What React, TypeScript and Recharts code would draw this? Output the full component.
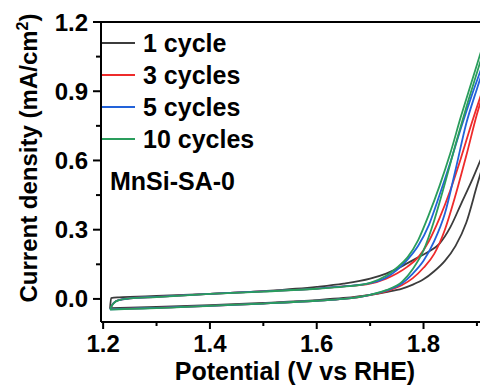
import { LineChart, Line, XAxis, YAxis, ReferenceLine, Label } from 'recharts';

const FONT = '"Liberation Sans", Arial, sans-serif';

// potential grids (V vs RHE) for the anodic (forward) and cathodic (reverse) sweeps
const POT_FWD = [1.213, 1.215, 1.22, 1.23, 1.25, 1.3, 1.4, 1.5, 1.6, 1.65, 1.7, 1.73, 1.75, 1.77, 1.79, 1.81, 1.83, 1.85, 1.87, 1.89, 1.91, 1.93];
const POT_REV = [1.213, 1.25, 1.3, 1.4, 1.5, 1.6, 1.65, 1.7, 1.73, 1.76, 1.78, 1.8, 1.82, 1.84, 1.86, 1.88, 1.9, 1.92, 1.94];

// current density (mA/cm2)
const CYCLE1_FWD = [-0.04, 0.004, 0.006, 0.007, 0.009, 0.013, 0.022, 0.034, 0.052, 0.066, 0.088, 0.11, 0.13, 0.155, 0.18, 0.205, 0.24, 0.31, 0.41, 0.51, 0.62, 0.73];
const CYCLE1_REV = [-0.04, -0.038, -0.035, -0.027, -0.017, -0.005, 0.004, 0.018, 0.03, 0.045, 0.062, 0.085, 0.12, 0.165, 0.23, 0.33, 0.49, 0.65, 0.8];
const CYCLE3_FWD = [-0.044, -0.034, -0.017, -0.005, 0.002, 0.009, 0.022, 0.033, 0.045, 0.054, 0.066, 0.088, 0.11, 0.14, 0.18, 0.25, 0.35, 0.47, 0.61, 0.76, 0.9, 1.03];
const CYCLE3_REV = [-0.044, -0.042, -0.039, -0.03, -0.02, -0.008, 0.0, 0.017, 0.033, 0.06, 0.09, 0.135, 0.195, 0.3, 0.45, 0.62, 0.8, 0.95, 1.09];
const CYCLE5_FWD = [-0.045, -0.034, -0.017, -0.005, 0.002, 0.009, 0.022, 0.033, 0.045, 0.054, 0.068, 0.093, 0.125, 0.17, 0.23, 0.32, 0.45, 0.59, 0.74, 0.88, 1.01, 1.14];
const CYCLE5_REV = [-0.045, -0.042, -0.039, -0.03, -0.02, -0.008, 0.0, 0.018, 0.036, 0.068, 0.11, 0.165, 0.25, 0.37, 0.56, 0.76, 0.91, 1.05, 1.19];
const CYCLE10_FWD = [-0.046, -0.035, -0.018, -0.005, 0.002, 0.008, 0.022, 0.032, 0.044, 0.053, 0.07, 0.1, 0.135, 0.18, 0.255, 0.365, 0.49, 0.63, 0.79, 0.94, 1.09, 1.24];
const CYCLE10_REV = [-0.046, -0.043, -0.04, -0.03, -0.02, -0.008, 0.0, 0.018, 0.038, 0.075, 0.13, 0.21, 0.34, 0.5, 0.67, 0.83, 0.98, 1.13, 1.28];

const SERIES = [
  { name: '1 cycle', color: '#3c3c3c', fwd: CYCLE1_FWD, rev: CYCLE1_REV },
  { name: '3 cycles', color: '#ee2b2b', fwd: CYCLE3_FWD, rev: CYCLE3_REV },
  { name: '5 cycles', color: '#2262d9', fwd: CYCLE5_FWD, rev: CYCLE5_REV },
  { name: '10 cycles', color: '#2a9d5c', fwd: CYCLE10_FWD, rev: CYCLE10_REV },
];

const X_TICKS = [1.2, 1.3, 1.4, 1.5, 1.6, 1.7, 1.8, 1.9];
const X_LABELED = [1.2, 1.4, 1.6, 1.8];
const Y_TICKS = [0, 0.15, 0.3, 0.45, 0.6, 0.75, 0.9, 1.05, 1.2];
const Y_LABELED = [0, 0.3, 0.6, 0.9, 1.2];

const toPoints = (pot: number[], cur: number[]) => pot.map((x, i) => ({ x, y: cur[i] }));

const XTick = ({ x, y, payload }: any) => {
  const major = X_LABELED.some((v) => Math.abs(v - payload.value) < 1e-6);
  return (
    <g>
      <line x1={x} x2={x} y1={y} y2={y + (major ? 7 : 4)} stroke="#000" strokeWidth={2} />
      {major && (
        <text x={x} y={y + 30} textAnchor="middle" fontFamily={FONT} fontWeight="bold" fontSize={24} fill="#000">
          {payload.value.toFixed(1)}
        </text>
      )}
    </g>
  );
};

const YTick = ({ x, y, payload }: any) => {
  const major = Y_LABELED.some((v) => Math.abs(v - payload.value) < 1e-6);
  return (
    <g>
      <line x1={x - (major ? 8 : 5)} x2={x} y1={y} y2={y} stroke="#000" strokeWidth={2} />
      {major && (
        <text x={x - 13} y={y + 8.5} textAnchor="end" fontFamily={FONT} fontWeight="bold" fontSize={24} fill="#000">
          {payload.value.toFixed(1)}
        </text>
      )}
    </g>
  );
};

const App = () => (
  <div style={{ position: 'absolute', left: 0, top: 0, width: 480, height: 392, overflow: 'hidden', background: '#fff' }}>
    <LineChart width={486} height={392} margin={{ top: 22, right: 0, bottom: 0, left: 0 }}>
      <XAxis
        type="number"
        dataKey="x"
        domain={[1.196, 1.917]}
        allowDataOverflow
        ticks={X_TICKS}
        tick={<XTick />}
        tickSize={0}
        tickMargin={0}
        interval={0}
        axisLine={{ stroke: '#000', strokeWidth: 2 }}
        height={70}
      >
        <Label
          content={() => (
            <text x={295} y={380} textAnchor="middle" fontFamily={FONT} fontWeight="bold" fontSize={25} fill="#000">
              Potential (V vs RHE)
            </text>
          )}
        />
      </XAxis>
      <YAxis
        type="number"
        dataKey="y"
        domain={[-0.1, 1.2]}
        allowDataOverflow
        ticks={Y_TICKS}
        tick={<YTick />}
        tickSize={0}
        tickMargin={0}
        interval={0}
        axisLine={{ stroke: '#000', strokeWidth: 2 }}
        width={101}
      >
        <Label
          content={() => (
            <text
              x={37}
              y={158}
              transform="rotate(-90, 37, 158)"
              textAnchor="middle"
              fontFamily={FONT}
              fontWeight="bold"
              fontSize={24}
              fill="#000"
            >
              Current density (mA/cm<tspan dy={-9} fontSize={16}>2</tspan>
              <tspan dy={9}>)</tspan>
            </text>
          )}
        />
      </YAxis>
      <ReferenceLine y={1.2} stroke="#000" strokeWidth={2} ifOverflow="visible" />
      {SERIES.flatMap((s) => [
        <Line
          key={s.name + '-fwd'}
          data={toPoints(POT_FWD, s.fwd)}
          dataKey="y"
          type="monotone"
          stroke={s.color}
          strokeWidth={1.8}
          dot={false}
          isAnimationActive={false}
        />,
        <Line
          key={s.name + '-rev'}
          data={toPoints(POT_REV, s.rev)}
          dataKey="y"
          type="monotone"
          stroke={s.color}
          strokeWidth={1.8}
          dot={false}
          isAnimationActive={false}
        />,
      ])}
    </LineChart>
    <div style={{ position: 'absolute', left: 102, top: 27, fontFamily: FONT, fontWeight: 'bold', color: '#000' }}>
      {SERIES.map((s) => (
        <div key={s.name} style={{ display: 'flex', alignItems: 'center', height: 32 }}>
          <span style={{ display: 'inline-block', width: 33, height: 2, background: s.color, marginRight: 8 }} />
          <span style={{ fontSize: 25, lineHeight: '32px' }}>{s.name}</span>
        </div>
      ))}
      <div style={{ fontSize: 25, lineHeight: '32px', marginLeft: 8, marginTop: 10 }}>MnSi-SA-0</div>
    </div>
  </div>
);

export default App;
